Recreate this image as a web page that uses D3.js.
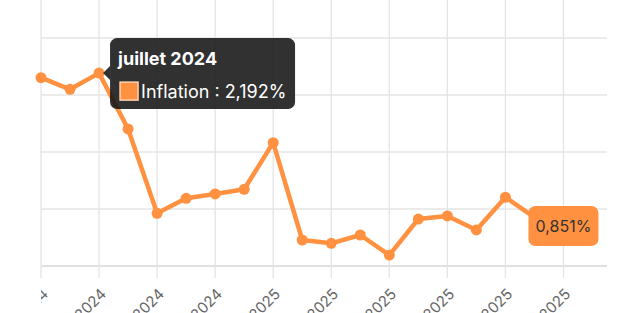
<!DOCTYPE html>
<html>
<head>
<meta charset="utf-8">
<script src="https://cdn.jsdelivr.net/npm/d3@7"></script>
<style>
  body { margin: 0; background: #fff; }
  svg { display: block; font-family: Inter, "Open Sans", sans-serif; }
</style>
</head>
<body>
<div id="chart"></div>
<script>
const months = ['mai 2024', 'juin 2024', 'juillet 2024', 'août 2024', 'septembre 2024', 'octobre 2024',
  'novembre 2024', 'décembre 2024', 'janvier 2025', 'février 2025', 'mars 2025', 'avril 2025',
  'mai 2025', 'juin 2025', 'juillet 2025', 'août 2025', 'septembre 2025', 'octobre 2025', 'novembre 2025']
const inflation = [2.152, 2.05, 2.192, 1.702, 0.962, 1.094, 1.132, 1.173, 1.582, 0.728, 0.699, 0.772,
  0.596, 0.912, 0.939, 0.816, 1.103, 0.927, 0.851]
const yTicks = [0.5, 1, 1.5, 2, 2.5]
const hoverIndex = 2

const width = 641, height = 313
const orange = '#ff9140'

const fr = d3.formatLocale({ decimal: ',', thousands: ' ', grouping: [3], currency: ['', ' €'] })
const fmt = v => fr.format('.3f')(v) + '%'

const svg = d3.select('#chart').append('svg')
  .attr('width', width)
  .attr('height', height)

const x = d3.scaleLinear().domain([0, 19.5]).range([41, 607])
const y = d3.scaleLinear().domain([0.5, 2.5]).range([266, 38])

const xTicks = d3.range(0, months.length, 2)

// grid
svg.append('g')
  .selectAll('line')
  .data(yTicks)
  .join('line')
  .attr('x1', x(0)).attr('x2', x(19.5))
  .attr('y1', d => y(d)).attr('y2', d => y(d))
  .attr('stroke', d => d === 0.5 ? '#d6d6d6' : '#e4e4e4')
  .attr('stroke-width', 1.3)

svg.append('g')
  .selectAll('line')
  .data(xTicks)
  .join('line')
  .attr('x1', d => x(d)).attr('x2', d => x(d))
  .attr('y1', 0).attr('y2', y(0.5) + 12)
  .attr('stroke', '#e4e4e4')
  .attr('stroke-width', 1.3)

// x labels, clipped at the plot's left edge
svg.append('clipPath').attr('id', 'clip-x')
  .append('rect').attr('x', x(0)).attr('y', 0).attr('width', width).attr('height', height)

svg.append('g')
  .attr('clip-path', 'url(#clip-x)')
  .selectAll('text')
  .data(xTicks)
  .join('text')
  .attr('transform', d => `translate(${x(d) + 8},${y(0.5) + 29}) rotate(-45)`)
  .attr('text-anchor', 'end')
  .attr('fill', '#666')
  .attr('font-size', 15)
  .text(d => months[d])

// line + points
const line = d3.line()
  .x((d, i) => x(i))
  .y(d => y(d))

svg.append('path')
  .datum(inflation)
  .attr('d', line)
  .attr('fill', 'none')
  .attr('stroke', orange)
  .attr('stroke-width', 4.5)
  .attr('stroke-linejoin', 'round')

svg.append('g')
  .selectAll('circle')
  .data(inflation)
  .join('circle')
  .attr('cx', (d, i) => x(i))
  .attr('cy', d => y(d))
  .attr('r', 5.5)
  .attr('fill', orange)

// last value label
const last = inflation.length - 1
const lbl = svg.append('g')
  .attr('transform', `translate(${x(last)},${y(inflation[last])})`)
lbl.append('rect')
  .attr('x', -35).attr('y', -20)
  .attr('width', 70).attr('height', 40)
  .attr('rx', 7)
  .attr('fill', orange)
lbl.append('text')
  .attr('text-anchor', 'middle')
  .attr('dy', '0.36em')
  .attr('fill', '#333')
  .attr('font-size', 16)
  .text(fmt(inflation[last]))

// tooltip
const tx = x(hoverIndex), ty = y(inflation[hoverIndex])
const tip = svg.append('g').attr('transform', `translate(${tx},${ty})`)
tip.append('path')
  .attr('d', 'M4,0 L11,-7 L11,7 Z')
  .attr('fill', 'rgba(20,20,20,0.88)')
tip.append('rect')
  .attr('x', 11).attr('y', -35)
  .attr('width', 185).attr('height', 71)
  .attr('rx', 7)
  .attr('fill', 'rgba(20,20,20,0.88)')
tip.append('text')
  .attr('x', 19).attr('y', -8)
  .attr('fill', '#fff')
  .attr('font-size', 18)
  .attr('font-weight', 700)
  .text(months[hoverIndex])
tip.append('rect')
  .attr('x', 21).attr('y', 9)
  .attr('width', 18).attr('height', 18)
  .attr('fill', orange)
  .attr('stroke', '#ffd3b0')
  .attr('stroke-width', 1.5)
tip.append('text')
  .attr('x', 42).attr('y', 25)
  .attr('fill', '#fff')
  .attr('font-size', 18)
  .text('Inflation : ' + fmt(inflation[hoverIndex]))
</script>
</body>
</html>
